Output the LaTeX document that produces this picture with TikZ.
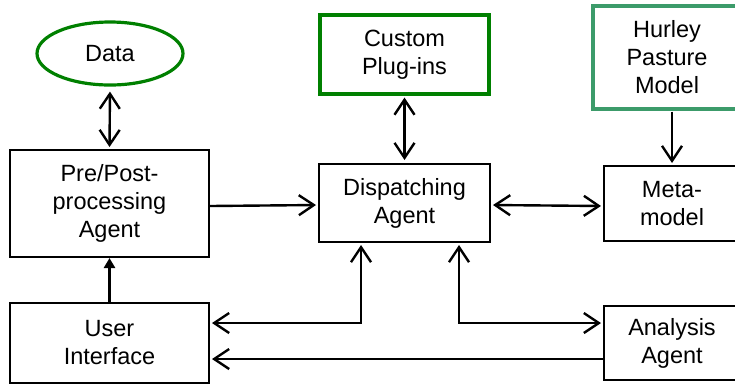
\documentclass[tikz,border=0pt]{standalone}
\usepackage{fontspec}
\setmainfont{Liberation Sans}
\usetikzlibrary{arrows.meta,shapes.geometric}
\definecolor{dkgreen}{RGB}{0,128,0}
\definecolor{hgreen}{RGB}{60,155,106}
\begin{document}
\begin{tikzpicture}[x=1pt,y=-1pt,
  every node/.style={font=\fontsize{23.5}{28}\selectfont, align=center, inner sep=0pt},
  box/.style={draw=black, line width=2pt, rectangle},
  gbox/.style={draw=dkgreen, line width=3.2pt, rectangle},
  conn/.style={line width=2.4pt, arrows={Straight Barb[length=15pt,width=20pt,line width=2.4pt]-Straight Barb[length=15pt,width=20pt,line width=2.4pt]}},
  oneway/.style={line width=2.4pt, -{Straight Barb[length=15pt,width=20pt,line width=2.4pt]}},
  filled/.style={line width=2.4pt, -{Triangle[length=10pt,width=11pt]}}
]
\useasboundingbox (0,0) rectangle (735,384);
\node[ellipse, draw=dkgreen, line width=3.2pt, minimum width=146pt, minimum height=63pt] (data) at (110,53.5) {Data};
\node[box, minimum width=199pt, minimum height=107pt] (pre) at (109.5,203.5) {Pre/Post-\\processing\\Agent};
\node[box, minimum width=199pt, minimum height=80pt] (user) at (109.5,343) {User\\Interface};
\node[gbox, minimum width=169pt, minimum height=79pt] (custom) at (404.5,54.5) {Custom\\Plug-ins};
\node[box, minimum width=171pt, minimum height=78pt] (disp) at (404.5,203) {Dispatching\\Agent};
\node[rectangle, draw=hgreen, line width=3.2pt, minimum width=148pt, minimum height=103pt] (hurley) at (667,57.5) {Hurley\\Pasture\\Model};
\node[box, minimum width=136pt, minimum height=75pt] (meta) at (672,203.5) {Meta-\\model};
\node[box, minimum width=136pt, minimum height=74pt] (analysis) at (672,343) {Analysis\\Agent};

\draw[conn, shorten <=5pt, shorten >=2pt] (data.south) -- (pre.north);
\draw[oneway, shorten >=2pt] ([yshift=-2.5pt]pre.east) -- ([yshift=-2pt]disp.west);
\draw[conn, shorten <=2pt, shorten >=3pt] (custom.south) -- (disp.north);
\draw[oneway, shorten <=1pt, shorten >=2pt] ([xshift=5pt]hurley.south) -- (meta.north);
\draw[conn, shorten <=2pt, shorten >=2pt] ([yshift=-2pt]disp.east) -- ([yshift=-2.5pt]meta.west);
\draw[filled] (user.north) -- (pre.south);
\draw[conn, shorten <=2pt, shorten >=2pt] ([yshift=20pt]user.east) -| ([xshift=-43.5pt]disp.south);
\draw[conn, shorten <=2pt, shorten >=2pt] ([xshift=54.5pt]disp.south) |- ([yshift=20pt]analysis.west);
\draw[oneway, shorten >=2pt] ([yshift=-16pt]analysis.west) -- ([yshift=-16pt]user.east);
\end{tikzpicture}
\end{document}
